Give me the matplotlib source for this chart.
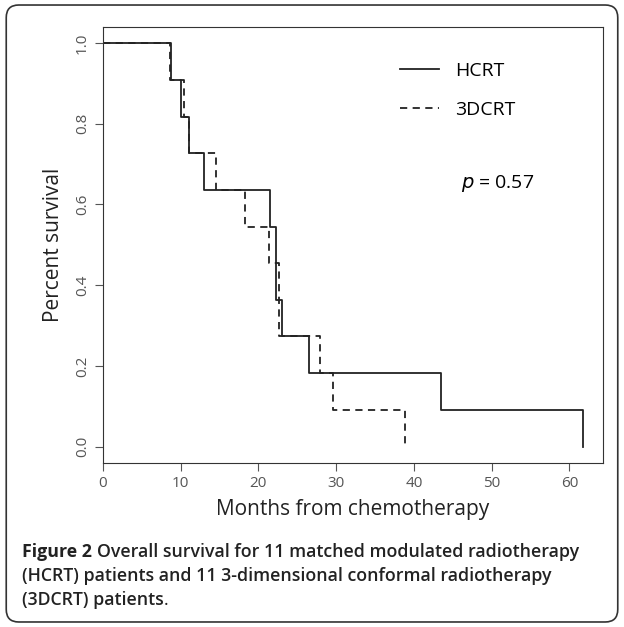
import matplotlib.pyplot as plt
from matplotlib.patches import FancyBboxPatch

# event times (months) for step drops
hcrt_t = [0, 8.8, 10.1, 11.1, 13.0, 21.5, 22.2, 23.0, 26.5, 43.5, 61.8]
hcrt_s = [1.0, 0.909, 0.818, 0.727, 0.636, 0.545, 0.364, 0.273, 0.182, 0.091, 0.0]
d3_t = [0, 8.6, 10.4, 11.1, 14.5, 18.3, 21.3, 22.6, 27.9, 29.6, 38.8]
d3_s = [1.0, 0.909, 0.818, 0.727, 0.636, 0.545, 0.455, 0.273, 0.182, 0.091, 0.0]

plt.rcParams["font.family"] = ["Open Sans", "DejaVu Sans"]

fig = plt.figure(figsize=(6.24, 6.27), dpi=100)
fig.patches.append(FancyBboxPatch((0.01, 0.008), 0.98, 0.984, boxstyle="round,pad=0,rounding_size=0.02",
                                  transform=fig.transFigure, fill=False, lw=1.2, ec="#333333"))
ax = fig.add_axes([0.165, 0.262, 0.801, 0.695])
ax.step(hcrt_t, hcrt_s, where="post", color="#222222", lw=1.3, label="HCRT")
ax.step(d3_t, d3_s, where="post", color="#222222", lw=1.3, ls=(0, (4, 3)), label="3DCRT")
ax.set_xlim(0, 64.3)
ax.set_ylim(-0.04, 1.04)
ax.set_xticks([0, 10, 20, 30, 40, 50, 60])
ax.set_yticks([0.0, 0.2, 0.4, 0.6, 0.8, 1.0])
ax.set_yticklabels(["0.0", "0.2", "0.4", "0.6", "0.8", "1.0"], rotation=90, va="center")
ax.tick_params(labelsize=11, colors="#555555", length=6)
for s in ax.spines.values():
    s.set_color("#333333")
ax.set_xlabel("Months from chemotherapy", fontsize=15, color="#222222", labelpad=6)
ax.set_ylabel("Percent survival", fontsize=15, color="#222222", labelpad=8)
ax.legend(loc="upper right", bbox_to_anchor=(0.86, 0.96), frameon=False, fontsize=14,
          handlelength=2.0, labelspacing=1.1)
ax.text(0.79, 0.63, "$p$ = 0.57", transform=ax.transAxes, fontsize=14, ha="center")

fs = 12.8
t = fig.text(0.035, 0.111, "Figure 2", fontsize=fs, fontweight="bold", color="#222222")
fig.canvas.draw()
bb = t.get_window_extent().transformed(fig.transFigure.inverted())
fig.text(bb.x1 + 0.008, 0.111, "Overall survival for 11 matched modulated radiotherapy",
         fontsize=fs, fontweight="semibold", color="#222222")
fig.text(0.035, 0.073, "(HCRT) patients and 11 3-dimensional conformal radiotherapy",
         fontsize=fs, fontweight="semibold", color="#222222")
t3 = fig.text(0.035, 0.035, "(3DCRT) patients", fontsize=fs, fontweight="semibold", color="#222222")
fig.canvas.draw()
bb3 = t3.get_window_extent().transformed(fig.transFigure.inverted())
fig.text(bb3.x1, 0.035, ".", fontsize=fs, color="#222222")
fig.savefig("out.png")
